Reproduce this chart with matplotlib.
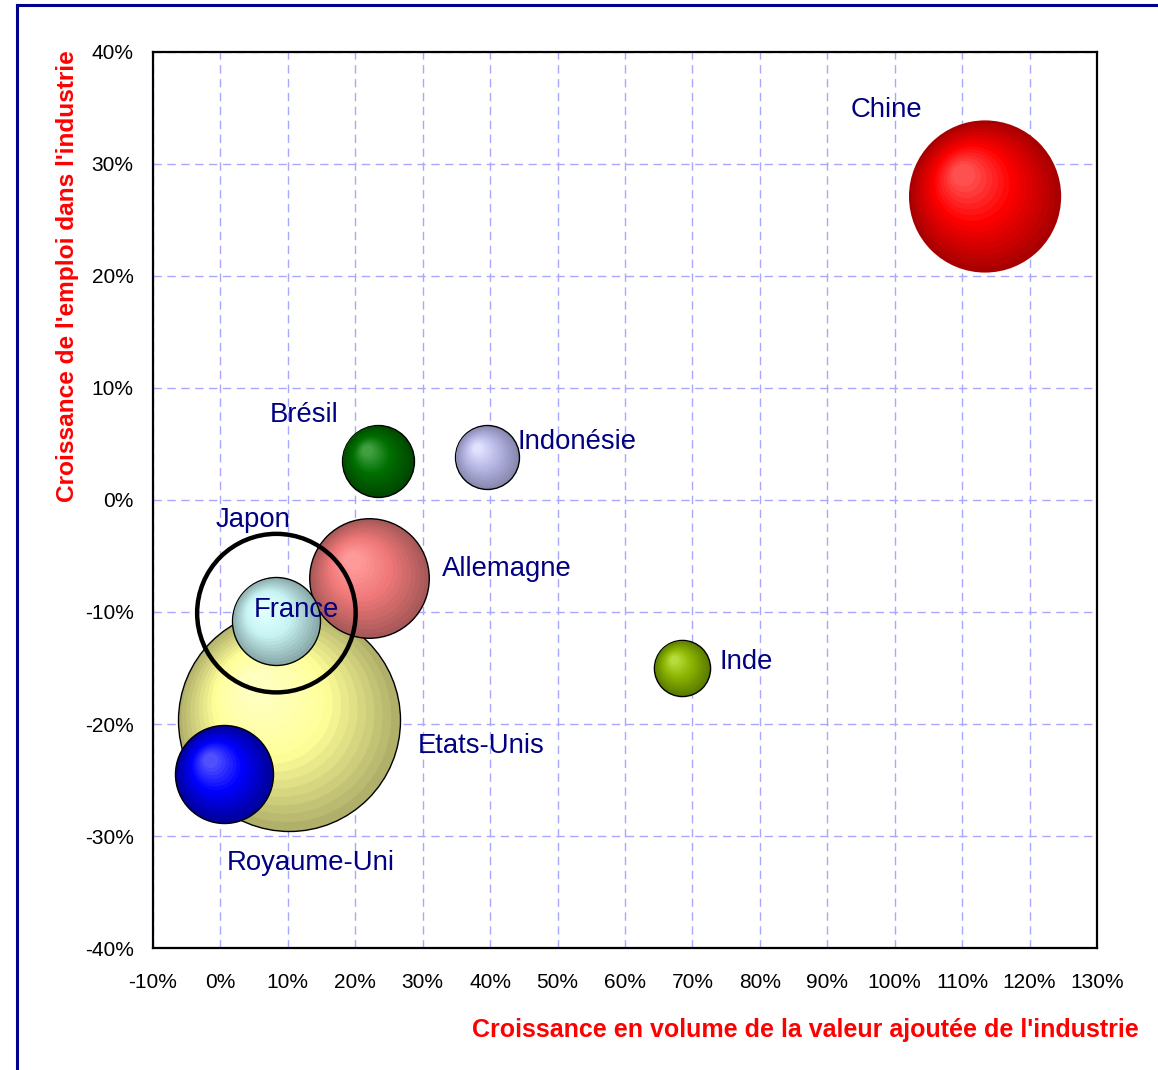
import numpy as np
import matplotlib.pyplot as plt
from matplotlib.lines import Line2D

plt.rcParams['font.family'] = ['Liberation Sans', 'DejaVu Sans']

# Croissance 1995-2007 (en %) : valeur ajoutée industrielle (x) et emploi industriel (y)
pays = ['Etats-Unis', 'Royaume-Uni', 'Allemagne', 'France', 'Japon',
        'Chine', 'Brésil', 'Indonésie', 'Inde']
croissance_va = [10.1, 0.6, 22.1, 8.2, 8.3, 113.4, 23.3, 39.5, 68.5]
croissance_emploi = [-19.6, -24.5, -7.0, -10.8, -10.1, 27.1, 3.5, 3.8, -15.0]
# poids relatif de l'industrie de chaque pays (Etats-Unis = 100)
poids = [100, 19.5, 29, 15.7, 51, 47, 10.5, 8.3, 6.4]

x_ticks = list(range(-10, 131, 10))
y_ticks = list(range(-40, 41, 10))

# couleurs : bord sombre, teinte, reflet
couleurs = {
    'Etats-Unis': ('#b0b06a', '#ffff99', '#ffffc0'),
    'Royaume-Uni': ('#00009a', '#0000ff', '#5050ff'),
    'Allemagne': ('#a85858', '#f07878', '#ff9a9a'),
    'France': ('#8aaaaa', '#c8f4f4', '#e0ffff'),
    'Japon': None,
    'Chine': ('#a80000', '#ff0000', '#ff5050'),
    'Brésil': ('#004800', '#007000', '#40a040'),
    'Indonésie': ('#8888b0', '#b8b8e6', '#e0e0ff'),
    'Inde': ('#5a7c00', '#8cb400', '#b4dc3c'),
}
# décalage des étiquettes (points) et alignement
etiquettes = {
    'Etats-Unis': ((93, -19), 'left'),
    'Royaume-Uni': ((62, -64), 'center'),
    'Allemagne': ((52, 7), 'left'),
    'France': ((15, 8), 'center'),
    'Japon': ((-17, 67), 'center'),
    'Chine': ((-71, 62), 'center'),
    'Brésil': ((-53, 33), 'center'),
    'Indonésie': ((22, 11), 'left'),
    'Inde': ((27, 4), 'left'),
}

DPI = 100
W, H = 1158, 1070
fig = plt.figure(figsize=(W / DPI, H / DPI), dpi=DPI)
ax = fig.add_axes([153 / W, 1 - 948 / H, 944 / W, 896 / H])
ax.set_xlim(-10, 130)
ax.set_ylim(-40, 40)
ax.set_xticks(x_ticks)
ax.set_yticks(y_ticks)
ax.set_xticklabels([f'{v}%' for v in x_ticks])
ax.set_yticklabels([f'{v}%' for v in y_ticks])
ax.tick_params(length=0, labelsize=15, pad=14)
ax.tick_params(axis='x', pad=18)
ax.grid(True, color='#a8a8ff', linestyle=(0, (6, 4)), linewidth=1)
ax.set_axisbelow(True)
for s in ax.spines.values():
    s.set_linewidth(1.6)
    s.set_color('black')


def mix(c1, c2, t):
    a = np.array(plt.matplotlib.colors.to_rgb(c1))
    b = np.array(plt.matplotlib.colors.to_rgb(c2))
    return tuple(a + (b - a) * t)


def px_to_s(r):
    # rayon en pixels -> taille de marqueur scatter (pt^2)
    return (2 * r * 72 / DPI) ** 2


def bulle(x, y, r, cols, z, contour=True, n=16):
    cx, cy = ax.transData.transform((x, y))
    inv = ax.transData.inverted()
    for i in range(n):
        t = i / (n - 1)
        rad = r * (1 - 0.85 * t)
        ox, oy = cx - 0.28 * r * t, cy + 0.28 * r * t
        dx, dy = inv.transform((ox, oy))
        if t < 0.55:
            col = mix(cols[0], cols[1], t / 0.55)
        else:
            col = mix(cols[1], cols[2], (t - 0.55) / 0.45)
        lw = 1.0 if (i == 0 and contour) else 0
        ax.scatter([dx], [dy], s=px_to_s(rad), color=col,
                   edgecolors='black' if lw else 'none', linewidths=lw,
                   zorder=z + i * 0.001)


echelle = 11.1  # pixels de rayon par racine du poids
for k, p in enumerate(pays):
    r = echelle * np.sqrt(poids[k])
    x, y = croissance_va[k], croissance_emploi[k]
    if couleurs[p] is None:
        ax.scatter([x], [y], s=px_to_s(r), facecolors='none',
                   edgecolors='black', linewidths=3.2, zorder=3 + k)
    else:
        bulle(x, y, r, couleurs[p], 3 + k, contour=(p != 'Chine'))

for k, p in enumerate(pays):
    off, ha = etiquettes[p]
    ax.annotate(p, (croissance_va[k], croissance_emploi[k]), xytext=off,
                textcoords='offset points', ha=ha, va='center',
                fontsize=19.8, color='#000080', zorder=20)

fig.text(805 / W, 1 - 1030 / H,
         "Croissance en volume de la valeur ajoutée de l'industrie",
         ha='center', va='center', color='red', fontsize=18, fontweight='bold')
fig.text(68 / W, 1 - 276 / H, "Croissance de l'emploi dans l'industrie",
         ha='center', va='center', rotation=90, color='red', fontsize=17.6,
         fontweight='bold')

# cadre bleu
fig.add_artist(Line2D([17 / W, 1], [1 - 5 / H, 1 - 5 / H], color='#00008c',
                      linewidth=2.2))
fig.add_artist(Line2D([17 / W, 17 / W], [0, 1 - 5 / H], color='#00008c',
                      linewidth=2.2))

fig.savefig('out.png', dpi=DPI)
